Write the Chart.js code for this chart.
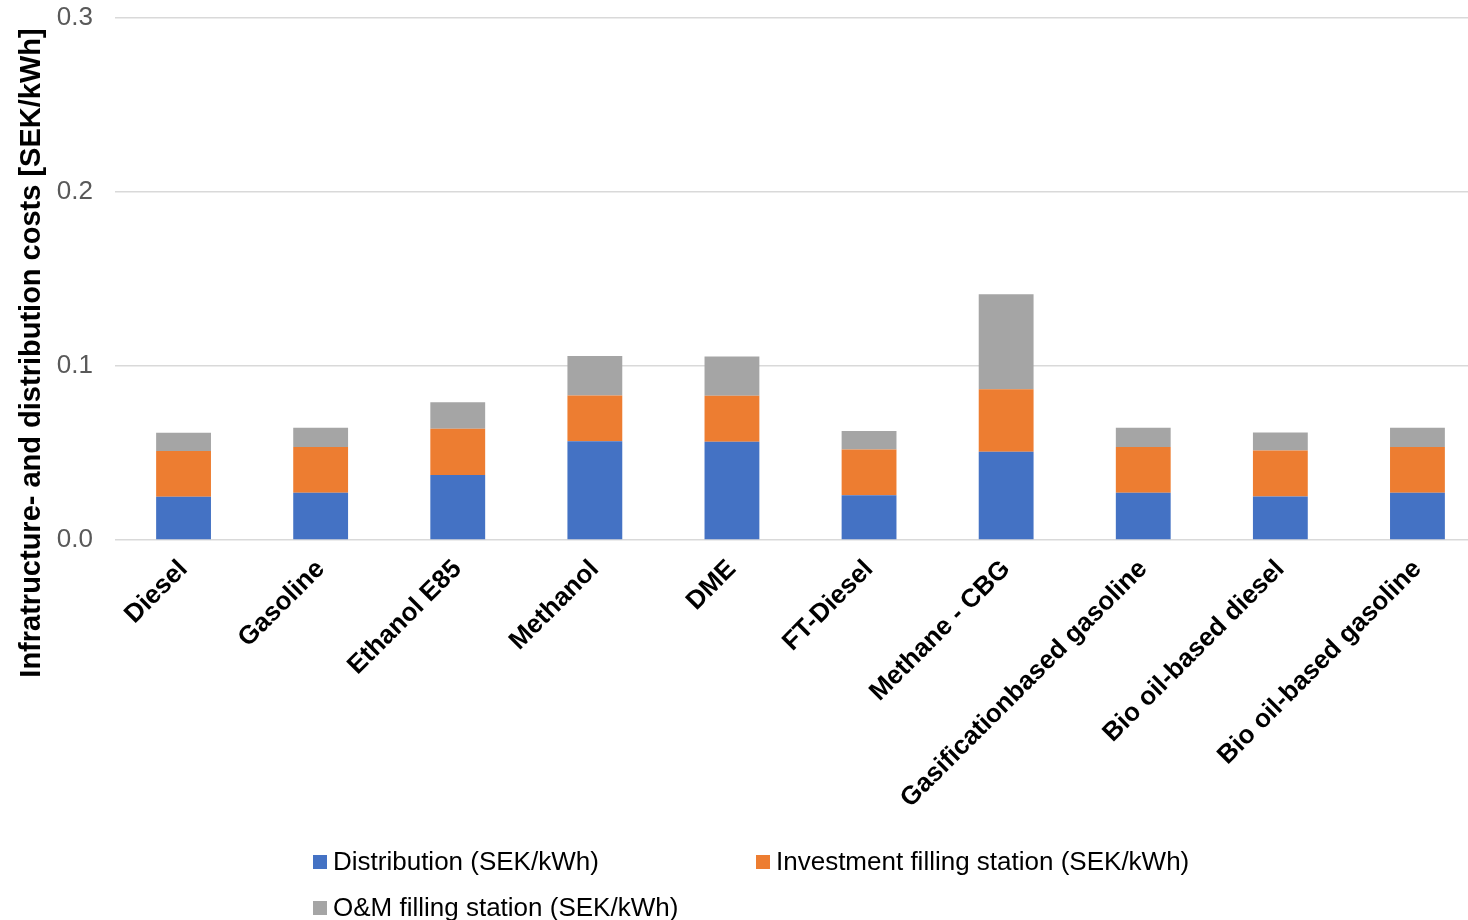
<!DOCTYPE html>
<html>
<head>
<meta charset="utf-8">
<script src="https://cdn.jsdelivr.net/npm/chart.js@4.4.1/dist/chart.umd.min.js"></script>
<style>
    html, body { margin: 0; padding: 0; background: #fff; overflow: hidden; }
    #wrap { position: relative; width: 1486px; height: 920px; }
    #legend { position: absolute; left: 313px; top: 846px; width: 1100px;
              font-family: "Liberation Sans", Arial, sans-serif; font-size: 26px; color: #000; }
    .item { position: absolute; display: flex; align-items: center; white-space: nowrap; }
    .box { width: 14px; height: 14px; margin-right: 6px; }
</style>
</head>
<body>
<div id="wrap">
    <canvas id="cost-chart" width="1486" height="920"></canvas>
    <div id="legend"></div>
</div>
<script>
const categories = ['Diesel', 'Gasoline', 'Ethanol E85', 'Methanol', 'DME', 'FT-Diesel',
    'Methane - CBG', 'Gasificationbased gasoline', 'Bio oil-based diesel', 'Bio oil-based gasoline'];
const distribution = [0.0248, 0.0271, 0.0374, 0.0568, 0.0564, 0.0257, 0.0507, 0.0271, 0.0250, 0.0271];
const investment = [0.0264, 0.0263, 0.0265, 0.0263, 0.0265, 0.0263, 0.0359, 0.0263, 0.0265, 0.0263];
const omStation = [0.0104, 0.0111, 0.0152, 0.0227, 0.0225, 0.0106, 0.0547, 0.0111, 0.0103, 0.0111];
const seriesLabels = ['Distribution (SEK/kWh)', 'Investment filling station (SEK/kWh)', 'O&M filling station (SEK/kWh)'];
const seriesColors = ['#4472C4', '#ED7D31', '#A5A5A5'];
const yTitle = 'Infratructure- and distribution costs [SEK/kWh]';

const FONT = '"Liberation Sans", Arial, sans-serif';

function formatData() {
    const values = [distribution, investment, omStation];
    return {
        labels: categories,
        datasets: values.map((data, i) => ({
            label: seriesLabels[i],
            data: data,
            backgroundColor: seriesColors[i],
            borderWidth: 0,
            categoryPercentage: 0.8,
            barPercentage: 0.5,
        })),
    };
}

// y title is drawn by hand so it can sit lower than the axis centre, like the original
const yTitlePlugin = {
    id: 'yTitle',
    afterDraw(chart) {
        const ctx = chart.ctx;
        ctx.save();
        ctx.translate(32, 353);
        ctx.rotate(-Math.PI / 2);
        ctx.font = 'bold 29px ' + FONT;
        ctx.fillStyle = '#000';
        ctx.textAlign = 'center';
        ctx.textBaseline = 'middle';
        ctx.fillText(yTitle, 0, 0);
        ctx.restore();
    }
};

const ctx = document.getElementById('cost-chart').getContext('2d');
new Chart(ctx, {
    type: 'bar',
    data: formatData(),
    options: {
        responsive: false,
        animation: false,
        layout: { padding: { top: 18, bottom: 110, left: 0, right: 0 } },
        plugins: {
            legend: { display: false },
            tooltip: { enabled: false },
        },
        scales: {
            x: {
                stacked: true,
                grid: { display: false, drawTicks: false },
                border: { display: false },
                ticks: {
                    color: '#000',
                    font: { family: FONT, size: 26, weight: 'bold' },
                    maxRotation: 45,
                    minRotation: 45,
                    padding: 14,
                    autoSkip: false,
                },
                afterFit: (s) => { s.height = 270; s.paddingTop = 0; },
            },
            y: {
                stacked: true,
                min: 0,
                max: 0.3,
                grid: { color: '#d9d9d9', lineWidth: 1.5, drawTicks: false },
                border: { display: false },
                ticks: {
                    stepSize: 0.1,
                    color: '#595959',
                    padding: 22,
                    font: { family: FONT, size: 26 },
                    callback: (v) => v.toFixed(1),
                },
                afterFit: (s) => { s.width = 115; s.paddingTop = 0; },
            },
        },
    },
    plugins: [yTitlePlugin],
});

// legend laid out in two columns like the spreadsheet original
const legend = document.getElementById('legend');
const cols = [0, 443];
seriesLabels.forEach((label, i) => {
    const item = document.createElement('div');
    item.className = 'item';
    item.style.left = cols[i % 2] + 'px';
    item.style.top = (Math.floor(i / 2) * 46) + 'px';
    item.innerHTML = '<span class="box" style="background:' + seriesColors[i] + '"></span>';
    const text = document.createElement('span');
    text.textContent = label;
    item.appendChild(text);
    legend.appendChild(item);
});
</script>
</body>
</html>
